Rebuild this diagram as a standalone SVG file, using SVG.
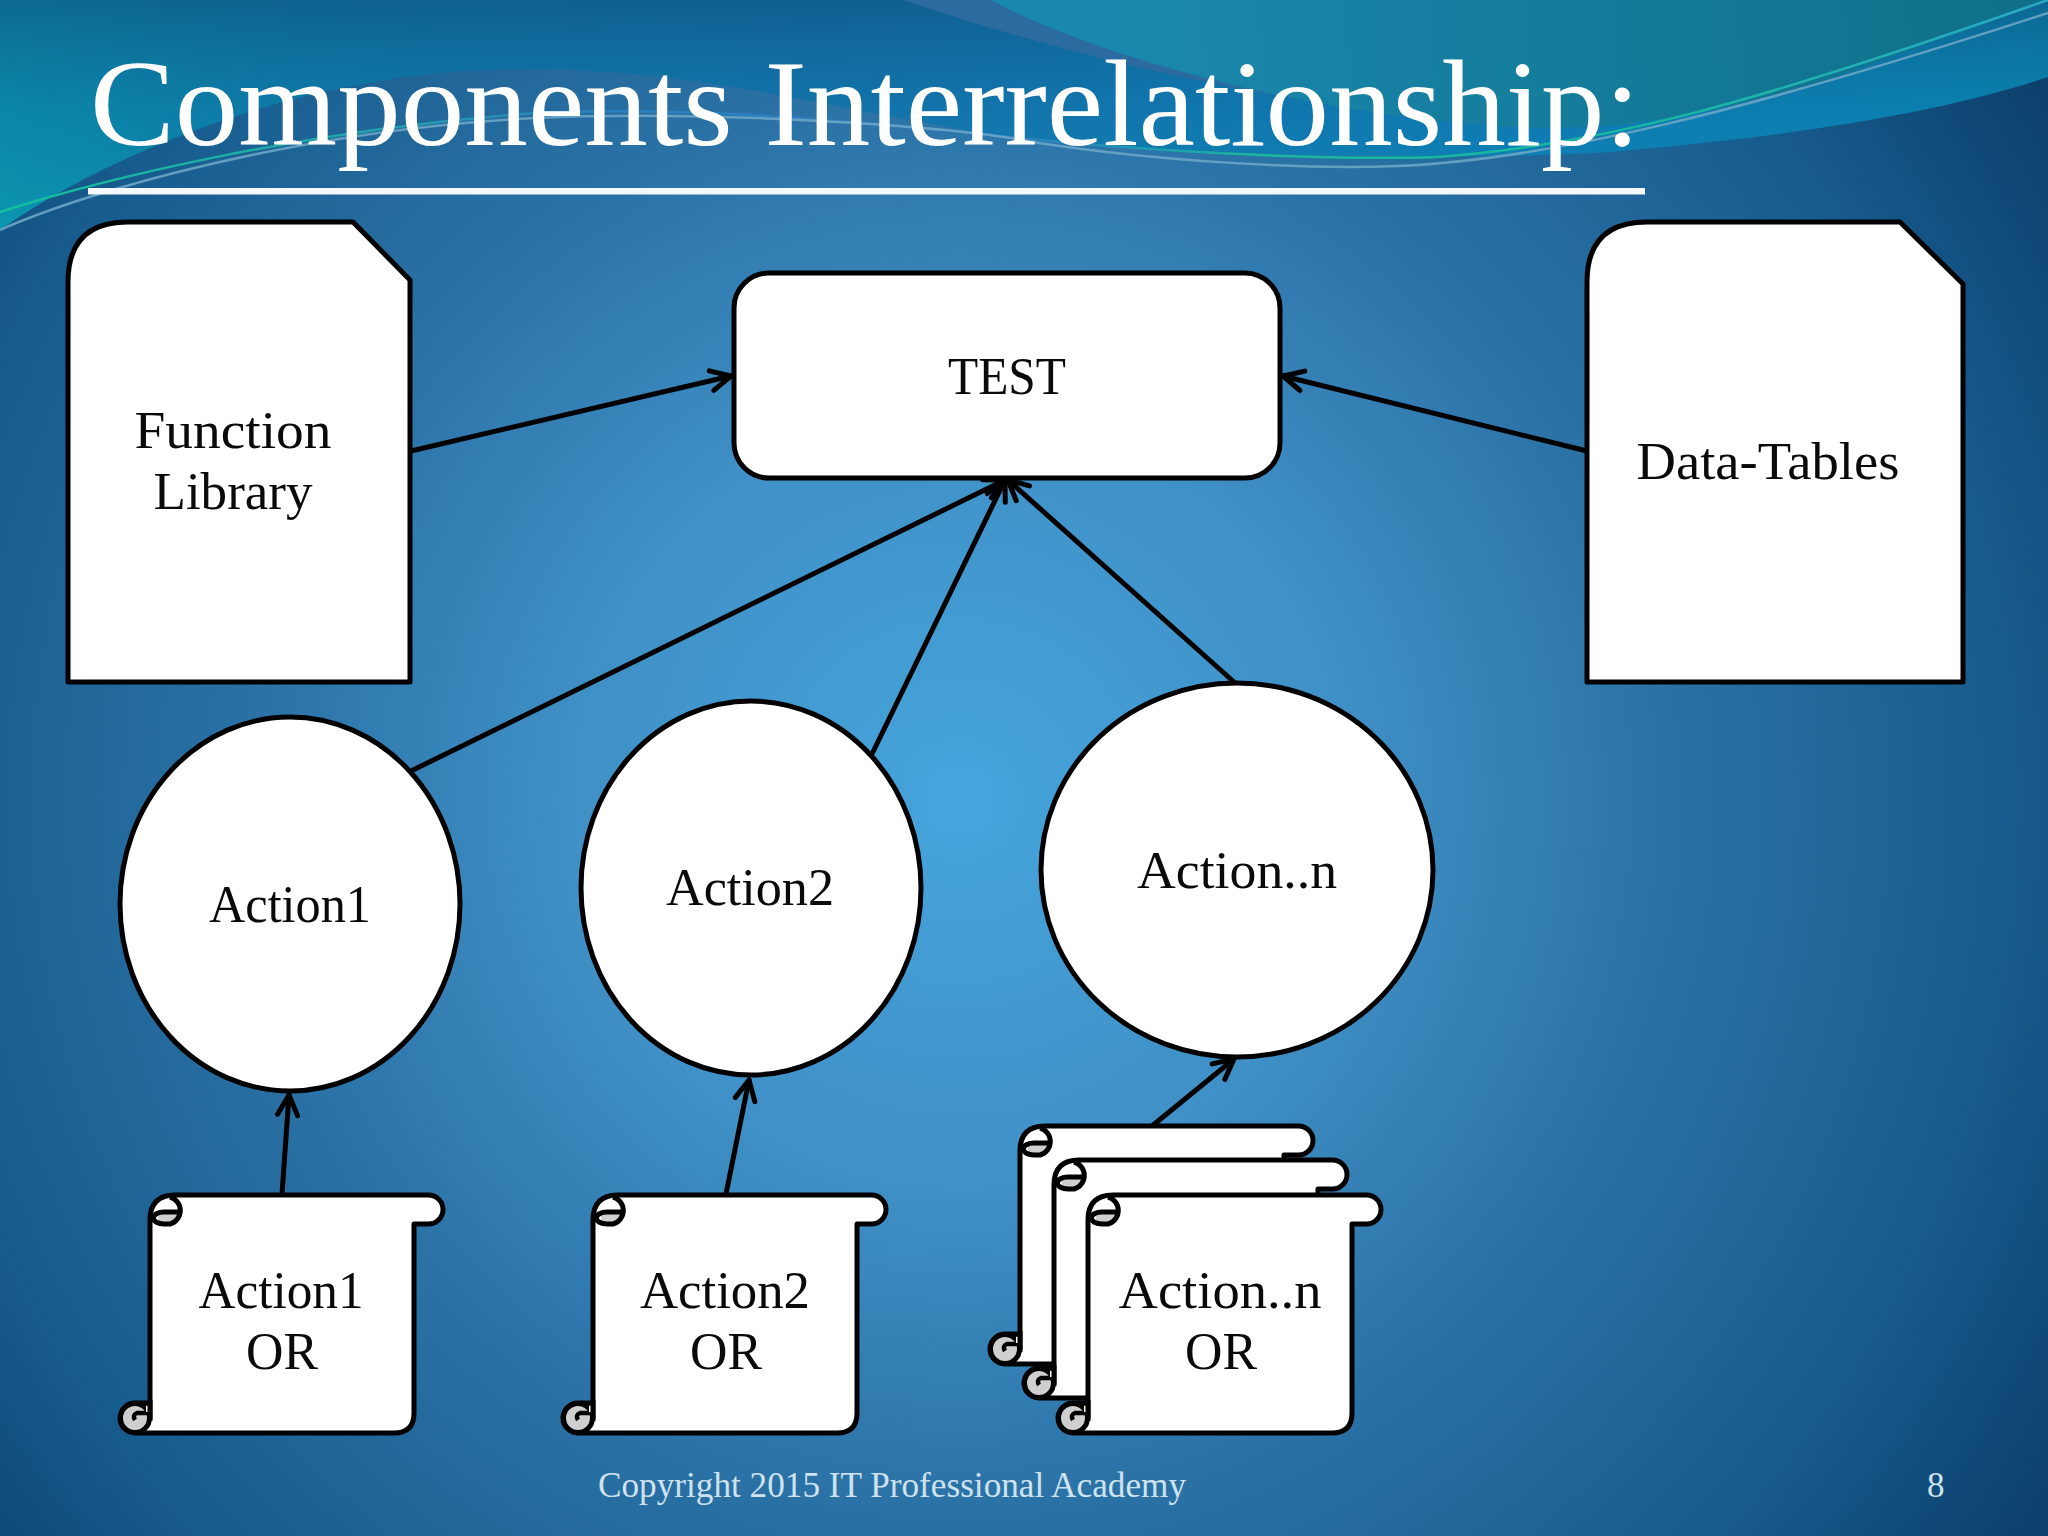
<svg xmlns="http://www.w3.org/2000/svg" xmlns:xlink="http://www.w3.org/1999/xlink" width="2048" height="1536" viewBox="0 0 2048 1536">
<style>
.shape{fill:#fff;stroke:#000;stroke-width:5;stroke-linejoin:round}
.conn{fill:none;stroke:#000;stroke-width:5;stroke-linecap:round;marker-end:url(#open)}
.lbl{font-family:"Liberation Serif","Times New Roman",serif;font-size:53px;fill:#0a0a0a;text-anchor:middle}
.foot{font-family:"Liberation Serif","Times New Roman",serif;font-size:35px;fill:#cfe3ef}
</style>
<defs>
<radialGradient id="bg" gradientUnits="userSpaceOnUse" cx="960" cy="800" r="1300">
<stop offset="0" stop-color="#45a5dc"/><stop offset=".3" stop-color="#3f90c6"/><stop offset=".55" stop-color="#2a71a5"/><stop offset=".8" stop-color="#175c8e"/><stop offset="1" stop-color="#0c3f6b"/>
</radialGradient>
<linearGradient id="sw" gradientUnits="userSpaceOnUse" x1="0" y1="0" x2="2048" y2="0">
<stop offset="0" stop-color="#0b8fae"/><stop offset=".15" stop-color="#0e7fad"/><stop offset=".4" stop-color="#1478b0"/><stop offset=".75" stop-color="#0f80ba"/><stop offset="1" stop-color="#0a8ab5"/>
</linearGradient>
<linearGradient id="swtop" gradientUnits="userSpaceOnUse" x1="0" y1="0" x2="0" y2="230">
<stop offset="0" stop-color="#0d4a78" stop-opacity=".55"/><stop offset=".5" stop-color="#0d5a88" stop-opacity=".15"/><stop offset="1" stop-color="#0ab0b8" stop-opacity=".25"/>
</linearGradient>
<linearGradient id="teal" gradientUnits="userSpaceOnUse" x1="1100" y1="100" x2="2048" y2="0">
<stop offset="0" stop-color="#1a88ae"/><stop offset="1" stop-color="#0f6f88"/>
</linearGradient>
<linearGradient id="thin" gradientUnits="userSpaceOnUse" x1="0" y1="0" x2="2048" y2="0">
<stop offset="0" stop-color="#14c0a0"/><stop offset=".15" stop-color="#20a8a8"/><stop offset=".3" stop-color="#2a80c0"/><stop offset=".5" stop-color="#2a80c0"/><stop offset=".62" stop-color="#18b8a0"/><stop offset=".8" stop-color="#18b8a0"/><stop offset="1" stop-color="#2aa8c8"/>
</linearGradient>
<marker id="open" markerUnits="userSpaceOnUse" markerWidth="40" markerHeight="40" viewBox="-30 -20 40 40" refX="0" refY="0" orient="auto">
<path d="M-20 -10 L0 0 L-20 10" fill="none" stroke="#000" stroke-width="5" stroke-linecap="round" stroke-linejoin="round"/>
</marker>
<g id="scroll">
<path class="shape" d="M0 223V25Q0 0 25 0H278.5A14.5 14.5 0 0 1 278.5 29H264V218Q264 238 244 238H-15A15 15 0 0 1 -15 208H0Z"/>
<path d="M8 21Q16 15 27 15Q29 24 20 28H12Q7 26 8 21Z" fill="#cfcfcf"/>
<path d="M20 2A14 14 0 0 1 20 29H14A8 4.500 0 0 1 14 17H28" fill="none" stroke="#000" stroke-width="5"/>
<circle cx="-15" cy="223" r="14.500" fill="#cfcfcf" stroke="#000" stroke-width="5"/>
<path d="M-3 218H-13Q-18 220 -15 225" fill="none" stroke="#000" stroke-width="4.500"/>
<path d="M-3 211V217" stroke="#fff" stroke-width="2" fill="none"/>
<path d="M0 205V226" stroke="#000" stroke-width="5" fill="none"/>
</g>
</defs>

<g id="background">
<rect width="2048" height="1536" fill="url(#bg)"/>
<path d="M0 230C90 165 300 65 536 69C760 72 900 135 1118 147C1300 156 1440 160 1596 153C1750 140 1920 120 2048 77V0H0Z" fill="url(#sw)"/>
<path d="M0 230C90 165 300 65 536 69C760 72 900 135 1118 147C1300 156 1440 160 1596 153C1750 140 1920 120 2048 77V0H0Z" fill="url(#swtop)"/>
<path d="M903 0H991C1060 40 1280 115 1516 127C1300 110 1080 60 903 0Z" fill="#2c6b9f"/>
<path d="M991 0C1060 40 1280 115 1516 127C1600 132 1700 120 1835 77C1920 45 2000 20 2048 0Z" fill="url(#teal)"/>
<path d="M0 212C100 180 300 130 536 113C700 105 900 125 1039 140C1200 155 1350 160 1437 157C1600 145 1750 105 2048 0" fill="none" stroke="url(#thin)" stroke-width="2.500"/>
<path d="M0 230C90 190 300 130 536 118C700 110 950 125 1039 143C1150 160 1300 170 1397 166C1550 160 1750 110 2048 13" fill="none" stroke="#6aa5c5" stroke-width="2.500" opacity=".9"/>
</g>

<text id="title" x="90" y="145" font-family="'Liberation Serif','Times New Roman',serif" font-size="122" fill="#fff" textLength="1550" lengthAdjust="spacingAndGlyphs">Components Interrelationship:</text>
<rect id="title-rule" x="88" y="188" width="1557" height="6.500" fill="#f2f8fb"/>

<g id="connectors">
<path class="conn" d="M411 451L731 376"/>
<path class="conn" d="M1587 451L1283 376"/>
<path class="conn" d="M413 770L1005 480"/>
<path class="conn" d="M872 754L1005 480"/>
<path class="conn" d="M1234 682L1008 480"/>
<path class="conn" d="M282 1194L289 1095"/>
<path class="conn" d="M726 1194L749 1080"/>
<path class="conn" d="M1152 1126L1234 1059"/>
</g>

<g id="function-library">
<path class="shape" d="M68 682V282Q68 222 128 222H353L410 280V682Z"/>
<text class="lbl" x="233" y="448" textLength="197" lengthAdjust="spacingAndGlyphs">Function</text>
<text class="lbl" x="233" y="509" textLength="159" lengthAdjust="spacingAndGlyphs">Library</text>
</g>
<g id="data-tables">
<path class="shape" d="M1587 682V282Q1587 222 1647 222H1900L1963 284V682Z"/>
<text class="lbl" x="1768" y="479" textLength="263" lengthAdjust="spacingAndGlyphs">Data-Tables</text>
</g>
<g id="test">
<rect class="shape" x="734" y="273" width="546" height="205" rx="35"/>
<text class="lbl" x="1007" y="394" textLength="118" lengthAdjust="spacingAndGlyphs">TEST</text>
</g>
<g id="action1">
<ellipse class="shape" cx="290" cy="904" rx="170" ry="187"/>
<text class="lbl" x="290" y="922" textLength="162" lengthAdjust="spacingAndGlyphs">Action1</text>
</g>
<g id="action2">
<ellipse class="shape" cx="751" cy="888" rx="170" ry="187"/>
<text class="lbl" x="750" y="905" textLength="168" lengthAdjust="spacingAndGlyphs">Action2</text>
</g>
<g id="actionn">
<ellipse class="shape" cx="1237" cy="870" rx="196" ry="187"/>
<text class="lbl" x="1237" y="888" textLength="200" lengthAdjust="spacingAndGlyphs">Action..n</text>
</g>
<g id="or1">
<use href="#scroll" x="150" y="1195"/>
<text class="lbl" x="281" y="1308" textLength="165" lengthAdjust="spacingAndGlyphs">Action1</text>
<text class="lbl" x="282" y="1369" textLength="72" lengthAdjust="spacingAndGlyphs">OR</text>
</g>
<g id="or2">
<use href="#scroll" x="593" y="1195"/>
<text class="lbl" x="725" y="1308" textLength="170" lengthAdjust="spacingAndGlyphs">Action2</text>
<text class="lbl" x="726" y="1369" textLength="72" lengthAdjust="spacingAndGlyphs">OR</text>
</g>
<g id="orn">
<use href="#scroll" x="1020" y="1126"/>
<use href="#scroll" x="1054" y="1160"/>
<use href="#scroll" x="1088" y="1195"/>
<text class="lbl" x="1220" y="1308" textLength="203" lengthAdjust="spacingAndGlyphs">Action..n</text>
<text class="lbl" x="1221" y="1369" textLength="72" lengthAdjust="spacingAndGlyphs">OR</text>
</g>
<text class="foot" x="598" y="1497" textLength="588" lengthAdjust="spacingAndGlyphs">Copyright 2015 IT Professional Academy</text>
<text class="foot" x="1927" y="1497">8</text>
</svg>
